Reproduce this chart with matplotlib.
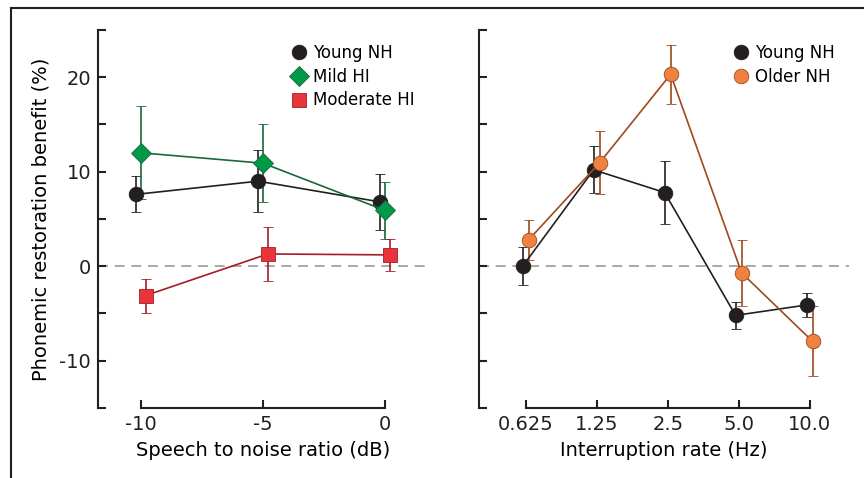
import numpy as np
import matplotlib.pyplot as plt
from matplotlib.lines import Line2D

# Left panel: speech to noise ratio
snr = [-10, -5, 0]
young_snr = [7.6, 9.0, 6.8]
young_snr_err = [1.9, 3.3, 3.0]
mild_snr = [12.0, 10.9, 5.9]
mild_snr_err = [4.9, 4.1, 3.0]
moderate_snr = [-3.1, 1.3, 1.2]
moderate_snr_err = [1.8, 2.9, 1.7]

# Right panel: interruption rate
rates = ['0.625', '1.25', '2.5', '5.0', '10.0']
young_rate = [0.0, 10.2, 7.8, -5.2, -4.1]
young_rate_err = [2.0, 2.5, 3.35, 1.45, 1.3]
older_rate = [2.8, 10.95, 20.3, -0.7, -7.95]
older_rate_err = [2.1, 3.35, 3.1, 3.5, 3.7]

plt.rcParams['font.family'] = ['DejaVu Sans']
plt.rcParams['font.size'] = 14

fig = plt.figure(figsize=(8.64, 4.78), dpi=100)
ax1 = fig.add_axes([0.1134, 0.1464, 0.382, 0.791])
ax2 = fig.add_axes([0.5544, 0.1464, 0.428, 0.791])

# outer frame (top and left edges)
fig.add_artist(Line2D([0.0127, 0.0127], [0, 0.983], transform=fig.transFigure, color='#231f20', lw=1.5))
fig.add_artist(Line2D([0.0127, 1.0], [0.983, 0.983], transform=fig.transFigure, color='#231f20', lw=1.5))

black = '#231f20'


def draw(ax, x, y, err, mk, face, line, ms):
    ax.errorbar(x, y, yerr=err, fmt='-', marker=mk, color=line, ecolor=line, elinewidth=1.2,
                capsize=3.5, capthick=1.2, lw=1.2, markersize=ms, markerfacecolor=face,
                markeredgecolor=line, markeredgewidth=0.6, zorder=3)
    return Line2D([], [], ls='none', marker=mk, markersize=ms, markerfacecolor=face,
                  markeredgecolor=line, markeredgewidth=0.6)


snr = np.array(snr, dtype=float)
h1 = [draw(ax1, snr - 0.2, young_snr, young_snr_err, 'o', black, black, 10.5),
      draw(ax1, snr, mild_snr, mild_snr_err, 'D', '#00994a', '#17683a', 10),
      draw(ax1, snr + 0.2, moderate_snr, moderate_snr_err, 's', '#e8353b', '#a31d24', 10)]
l1 = ['Young NH', 'Mild HI', 'Moderate HI']

xr = np.arange(len(rates), dtype=float)
h2 = [draw(ax2, xr - 0.045, young_rate, young_rate_err, 'o', black, black, 10.5),
      draw(ax2, xr + 0.04, older_rate, older_rate_err, 'o', '#f0823f', '#9c4a1e', 10.5)]
l2 = ['Young NH', 'Older NH']

for ax, h, l in ((ax1, h1, l1), (ax2, h2, l2)):
    ax.axhline(0, color='#999999', lw=1.2, dashes=(6, 4), zorder=1)
    ax.set_ylim(-15, 25)
    ax.set_yticks(np.arange(-15, 26, 5))
    for s in ('top', 'right'):
        ax.spines[s].set_visible(False)
    for s in ('left', 'bottom'):
        ax.spines[s].set_linewidth(1.5)
        ax.spines[s].set_color(black)
    ax.spines['left'].set_bounds(-15, 25)
    ax.tick_params(direction='in', length=6, width=1.5, color=black, labelcolor=black, pad=5)
    ax.legend(h, l, loc='upper right', frameon=False, handletextpad=0.35, handlelength=1.0,
              borderaxespad=0.2, labelspacing=0.35, fontsize=12, bbox_to_anchor=(0.99, 0.99))

ax1.set_yticklabels(['', '-10', '', '0', '', '10', '', '20', ''])
ax2.set_yticklabels([])

ax1.set_xlim(-11.75, 1.75)
ax1.set_xticks(snr)
ax1.set_xticklabels(['-10', '-5', '0'])
ax1.spines['bottom'].set_bounds(-10, 0)
ax1.set_xlabel('Speech to noise ratio (dB)', labelpad=5)
ax1.set_ylabel('Phonemic restoration benefit (%)', labelpad=6)

ax2.set_xlim(-0.66, 4.55)
ax2.set_xticks(xr)
ax2.set_xticklabels(rates)
ax2.spines['bottom'].set_bounds(0, 4)
ax2.set_xlabel('Interruption rate (Hz)', labelpad=5)

fig.savefig('out.png', dpi=100)
